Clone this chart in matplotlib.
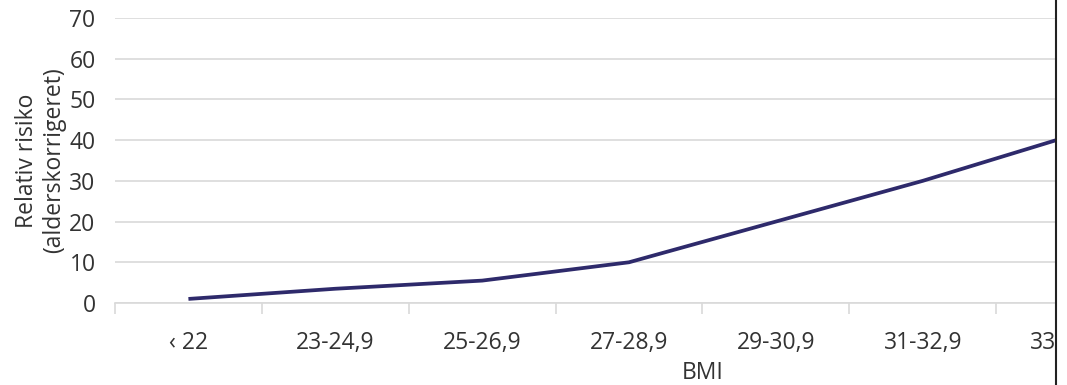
import matplotlib.pyplot as plt
from matplotlib.lines import Line2D
from matplotlib.patches import Rectangle

categories = ['‹ 22', '23-24,9', '25-26,9', '27-28,9', '29-30,9', '31-32,9', '33-34,9']
risk = [1, 3.5, 5.5, 10, 20, 30, 41]
yticks = [0, 10, 20, 30, 40, 50, 60, 70]

plt.rcParams['font.family'] = ['Open Sans', 'DejaVu Sans']
fs = 16.5

W, H = 1067, 385
fig = plt.figure(figsize=(W / 100, H / 100), dpi=100)
# axes extends past the right edge: the picture is cut off
left, right, bottom, top = 115, 1143, 385 - 303, 385 - 18
ax = fig.add_axes([left / W, bottom / H, (right - left) / W, (top - bottom) / H])

x = list(range(len(categories)))
ax.plot(x, risk, color='#2e2a6b', linewidth=2.7, solid_capstyle='butt', zorder=3)

ax.set_xlim(-0.5, len(categories) - 0.5)
ax.set_ylim(0, 70)
ax.set_yticks(yticks)
ax.yaxis.grid(True, color='#d9d9d9', linewidth=1.2)
ax.set_axisbelow(True)

ax.set_xticks(x)
ax.set_xticklabels(categories, fontsize=fs, color='#333333')
ax.set_xticks([i - 0.5 for i in range(len(categories) + 1)], minor=True)
ax.tick_params(axis='x', which='major', length=0, pad=20)
ax.tick_params(axis='x', which='minor', length=8, color='#d9d9d9', width=1.2)
ax.tick_params(axis='y', length=0, pad=14, labelsize=fs, labelcolor='#333333')

for s in ['top', 'right', 'left']:
    ax.spines[s].set_visible(False)
ax.spines['bottom'].set_color('#d9d9d9')
ax.spines['bottom'].set_linewidth(1.2)

ax.set_ylabel('Relativ risiko\n(alderskorrigeret)', fontsize=fs, color='#333333',
              linespacing=1.15)
ax.yaxis.set_label_coords(-0.048, 0.5)
ax.set_xlabel('BMI', fontsize=fs, color='#333333')
ax.xaxis.set_label_coords((703 - left) / (right - left), -0.205)

# cropped edge of the original picture
fig.add_artist(Rectangle((1057 / W, 0), 1, 1, transform=fig.transFigure,
                         facecolor='white', edgecolor='none', zorder=10))
fig.add_artist(Line2D([1055.5 / W, 1055.5 / W], [0, 1], transform=fig.transFigure,
                      color='#222222', linewidth=1.5, zorder=11))

fig.savefig('out.png', dpi=100)
